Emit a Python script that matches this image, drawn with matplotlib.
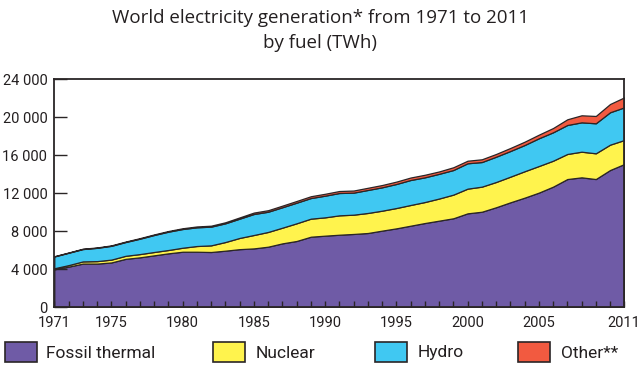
import matplotlib
matplotlib.use('Agg')
import matplotlib.pyplot as plt
from matplotlib import font_manager
from matplotlib.patches import Rectangle
from matplotlib.ticker import FuncFormatter

names = {f.name for f in font_manager.fontManager.ttflist}
narrow = 'Roboto' if 'Roboto' in names else 'DejaVu Sans'
title_font = 'Open Sans' if 'Open Sans' in names else 'DejaVu Sans'

years = list(range(1971, 2012))

# TWh
fossil = [4000, 4280, 4600, 4600, 4720, 5100, 5260, 5470, 5680, 5850,
          5850, 5820, 5960, 6120, 6200, 6380, 6730, 6980, 7430, 7540,
          7640, 7720, 7820, 8070, 8310, 8590, 8870, 9120, 9370, 9890,
          10060, 10530, 11050, 11540, 12070, 12700, 13500, 13680, 13500, 14450,
          15080]
nuclear = [110, 160, 230, 260, 300, 320, 340, 350, 350, 420,
           600, 700, 910, 1180, 1410, 1550, 1650, 1860, 1900, 1930,
           2040, 2030, 2110, 2100, 2140, 2180, 2210, 2330, 2490, 2600,
           2640, 2660, 2700, 2780, 2800, 2730, 2640, 2700, 2710, 2670,
           2530]
hydro = [1240, 1300, 1300, 1400, 1450, 1450, 1620, 1790, 1930, 1970,
         1970, 1970, 1970, 2030, 2210, 2130, 2150, 2170, 2170, 2280,
         2350, 2320, 2420, 2460, 2530, 2630, 2600, 2600, 2590, 2670,
         2590, 2660, 2700, 2760, 2920, 2990, 3050, 3090, 3160, 3410,
         3440]
other = [30, 30, 40, 40, 50, 50, 60, 60, 70, 80,
         90, 100, 110, 130, 150, 160, 170, 180, 190, 200,
         210, 220, 230, 240, 250, 260, 270, 250, 290, 270,
         290, 290, 320, 350, 380, 450, 600, 740, 770, 870,
         1050]

labels = ['Fossil thermal', 'Nuclear', 'Hydro', 'Other**']
colors = ['#6f5ba6', '#fff34d', '#40c8f2', '#f25a40']
edge = '#2a2526'

fig = plt.figure(figsize=(6.4, 3.7), dpi=100)
ax = fig.add_axes([54.3 / 640, 1 - 307.3 / 370, 570 / 640, 228 / 370])

polys = ax.stackplot(years, fossil, nuclear, hydro, other, colors=colors,
                     edgecolor=edge, linewidth=0.9)

ax.set_xlim(1971, 2011)
ax.set_ylim(0, 24000)
ax.set_yticks(range(0, 24001, 4000))
ax.set_xticks(years, minor=True)
ax.set_xticks([1971, 1975, 1980, 1985, 1990, 1995, 2000, 2005, 2011])
ax.yaxis.set_major_formatter(FuncFormatter(lambda v, p: f'{int(v):,}'.replace(',', ' ')))

ax.tick_params(axis='y', direction='in', length=9, width=1, color=edge,
               pad=5, labelsize=10.5, right=False)
ax.tick_params(axis='x', which='both', direction='in', length=4.5, width=1,
               color=edge, top=False)
ax.tick_params(axis='x', which='major', pad=6, labelsize=10.5)
for lbl in ax.get_xticklabels() + ax.get_yticklabels():
    lbl.set_fontfamily(narrow)
    lbl.set_color('#231f20')
for s in ax.spines.values():
    s.set_linewidth(1.3)
    s.set_color(edge)

fig.text(0.5, 1 - 18 / 370, 'World electricity generation* from 1971 to 2011',
         ha='center', va='center', fontsize=13.5, family=title_font, color='#231f20')
fig.text(0.5, 1 - 43 / 370, 'by fuel (TWh)',
         ha='center', va='center', fontsize=13.5, family=title_font, color='#231f20')

# legend along the bottom
box_x = [5, 213, 375, 518]
text_x = [46, 256, 418, 561]
for bx, tx, lab, col in zip(box_x, text_x, labels, colors):
    fig.patches.append(Rectangle((bx / 640, 1 - 362 / 370), 32 / 640, 20 / 370,
                                 transform=fig.transFigure, facecolor=col,
                                 edgecolor=edge, linewidth=1.2))
    fig.text(tx / 640, 1 - 353 / 370, lab, ha='left', va='center',
             fontsize=12.5, family=narrow, color='#231f20')

fig.savefig('out.png', dpi=100)
